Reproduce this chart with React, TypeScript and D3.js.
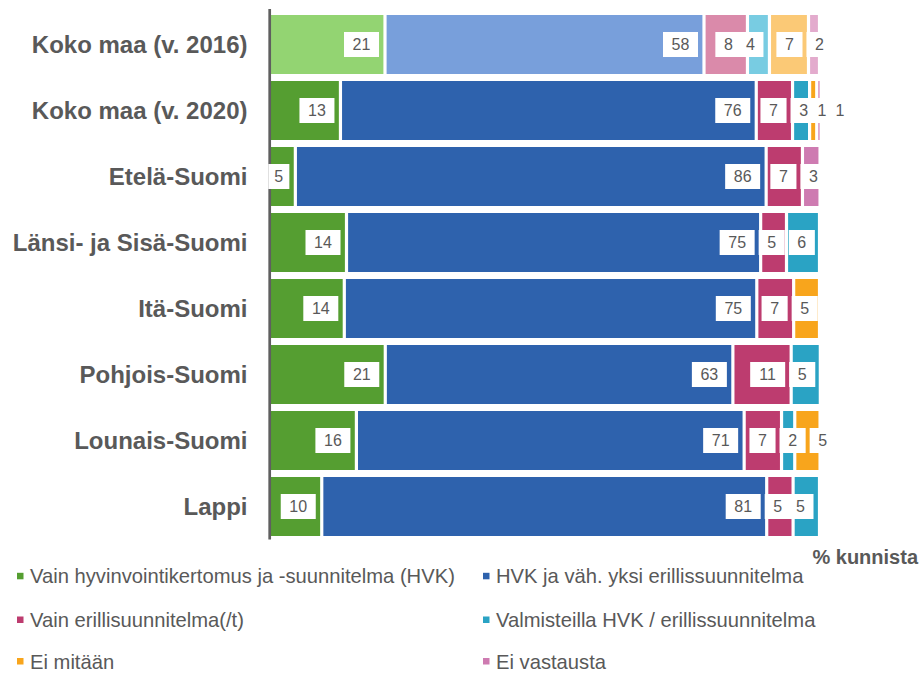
import React from 'react';
import * as d3 from 'd3';

const categories = [
  'Koko maa (v. 2016)',
  'Koko maa (v. 2020)',
  'Etelä-Suomi',
  'Länsi- ja Sisä-Suomi',
  'Itä-Suomi',
  'Pohjois-Suomi',
  'Lounais-Suomi',
  'Lappi',
];

const seriesNames = [
  'Vain hyvinvointikertomus ja -suunnitelma (HVK)',
  'HVK ja väh. yksi erillissuunnitelma',
  'Vain erillisuunnitelma(/t)',
  'Valmisteilla HVK / erillissuunnitelma',
  'Ei mitään',
  'Ei vastausta',
];

const vainHVK = [21.0, 12.9, 4.7, 14.0, 13.6, 21.05, 15.8, 9.5];
const hvkJaEril = [58.0, 75.6, 85.6, 75.3, 75.0, 63.2, 70.5, 80.9];
const vainEril = [7.9, 6.6, 6.6, 4.7, 6.7, 10.6, 6.8, 4.8];
const valmisteilla = [4.0, 3.1, 0, 6.0, 0, 5.3, 2.4, 4.8];
const eiMitaan = [7.1, 1.3, 0, 0, 4.7, 0, 4.6, 0];
const eiVastausta = [2.0, 0.8, 3.2, 0, 0, 0, 0, 0];

const series = [vainHVK, hvkJaEril, vainEril, valmisteilla, eiMitaan, eiVastausta];

const seriesColors = ['#559E31', '#2E62AD', '#BD3C6F', '#2AA3C4', '#F8A51C', '#CE7BB1'];
const seriesColorsLight = ['#93D472', '#789FDB', '#DA8AAA', '#78CCE2', '#FBC976', '#E3ABCD'];
const lightRows = ['Koko maa (v. 2016)'];

const FONT = '"Liberation Sans", Arial, Helvetica, sans-serif';
const TEXT = '#595959';

export default function App() {
  const x = d3.scaleLinear().domain([0, 100]).range([269.5, 819.5]);
  const y = d3
    .scaleBand<string>()
    .domain(categories)
    .range([11.5, 539.5])
    .paddingInner(7 / 66)
    .paddingOuter(3.5 / 66);

  const keys = seriesNames.map((_, i) => String(i));
  const table = categories.map((c, ci) => {
    const row: any = { cat: c };
    series.forEach((s, si) => (row[String(si)] = s[ci]));
    return row;
  });
  const stacked = d3.stack<any>().keys(keys)(table);

  const gap = 1.6;
  const x0 = x(0);

  const labels: any[] = [];
  categories.forEach((c, ci) => {
    const items: any[] = [];
    stacked.forEach((layer) => {
      const d = layer[ci];
      const v = d[1] - d[0];
      if (v <= 0) return;
      const txt = String(Math.round(v));
      const w = txt.length * 8.9 + 17.2;
      const right = x(d[1]) - 6;
      const left = right - w;
      items.push({ txt, left, right, w, ci });
    });
    for (let i = 1; i < items.length; i++) {
      const prev = items[i - 1];
      const overlap = prev.right - items[i].left;
      if (overlap > 4.5 || (overlap > -4 && overlap < 2)) {
        items[i].left = prev.right + 4;
        items[i].right = items[i].left + items[i].w;
      }
    }
    const maxRight = 853;
    for (let i = items.length - 1; i >= 0; i--) {
      const lim = i === items.length - 1 ? maxRight : items[i + 1].left + 8;
      if (items[i].right > lim) {
        items[i].right = lim;
        items[i].left = lim - items[i].w;
      }
    }
    items.forEach((it) => {
      if (it.left < x0 - 1.2) it.left = x0 - 1.2;
      labels.push(it);
    });
  });

  const legendRows = [583.3, 627, 668.5];
  const legendCols = [17, 483];

  return (
    <svg
      width={923}
      height={673}
      style={{ position: 'absolute', left: 0, top: 0, background: '#fff' }}
      fontFamily={FONT}
    >
      <rect x={0} y={0} width={923} height={673} fill="#fff" />
      {stacked.map((layer, si) =>
        layer.map((d, ci) => {
          const v = d[1] - d[0];
          if (v <= 0) return null;
          const cat = categories[ci];
          const light = lightRows.includes(cat);
          const xs = si === 0 ? x(d[0]) : x(d[0]) + gap;
          const xe = x(d[1]) - gap;
          return (
            <rect
              key={`${si}-${ci}`}
              x={xs}
              y={y(cat)!}
              width={Math.max(0.8, xe - xs)}
              height={y.bandwidth()}
              fill={light ? seriesColorsLight[si] : seriesColors[si]}
            />
          );
        })
      )}
      <line x1={269.7} x2={269.7} y1={9} y2={539.5} stroke="#5f5f5f" strokeWidth={2.7} />
      {labels.map((l, i) => {
        const cy = y(categories[l.ci])! + y.bandwidth() / 2;
        return (
          <g key={i}>
            <rect x={l.left} y={cy - 12.5} width={l.right - l.left} height={25} fill="#fff" />
            <text
              x={(l.left + l.right) / 2}
              y={cy + 5.7}
              textAnchor="middle"
              fontSize={16}
              fill={TEXT}
            >
              {l.txt}
            </text>
          </g>
        );
      })}
      {categories.map((c) => (
        <text
          key={c}
          x={247.5}
          y={y(c)! + y.bandwidth() / 2 + 8.6}
          textAnchor="end"
          fontSize={24}
          fontWeight="bold"
          fill={TEXT}
        >
          {c}
        </text>
      ))}
      <text x={918} y={564} textAnchor="end" fontSize={20} fontWeight="bold" fill={TEXT}>
        % kunnista
      </text>
      {seriesNames.map((n, i) => {
        const col = i % 2;
        const row = Math.floor(i / 2);
        const bx = legendCols[col];
        const by = legendRows[row];
        return (
          <g key={n}>
            <rect x={bx} y={by - 10.5} width={6.5} height={6.5} fill={seriesColors[i]} />
            <text x={bx + 13} y={by} fontSize={20.2} fill={TEXT}>
              {n}
            </text>
          </g>
        );
      })}
    </svg>
  );
}
